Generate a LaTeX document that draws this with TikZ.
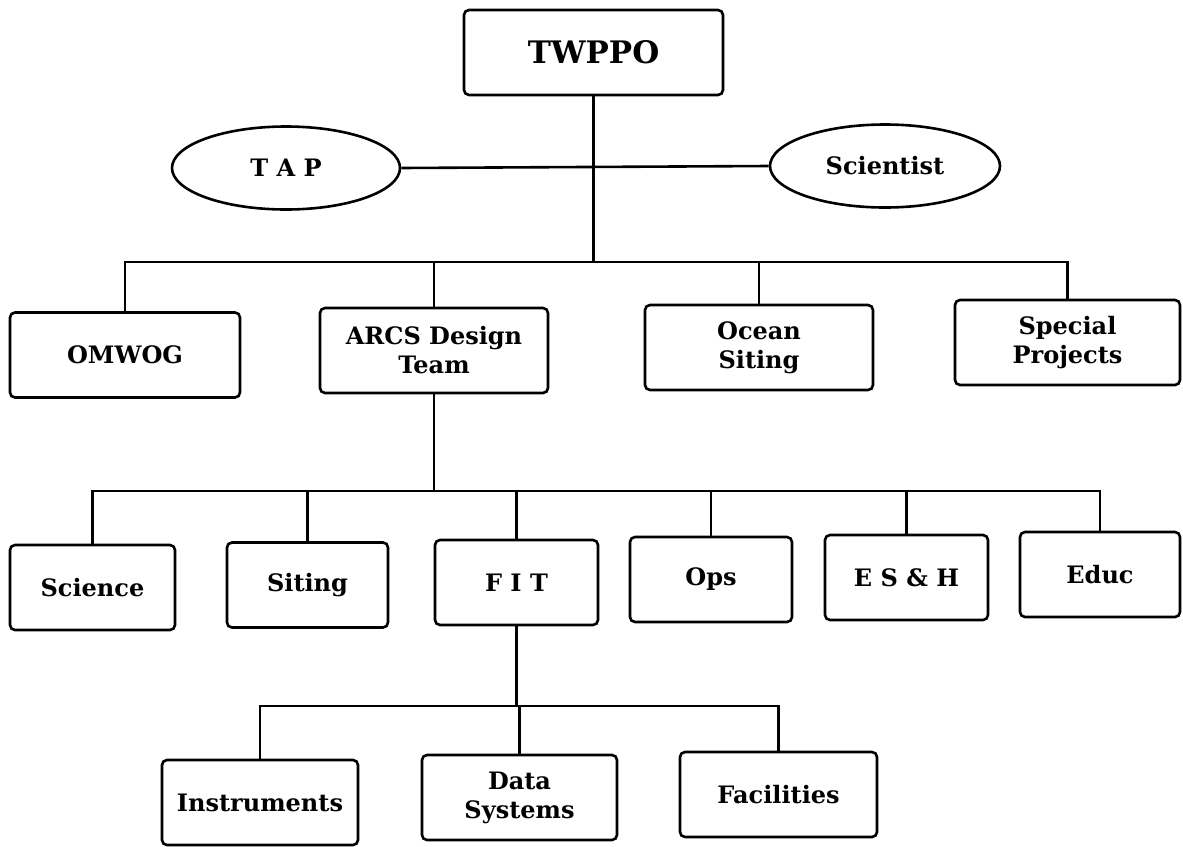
\documentclass[tikz,border=0pt]{standalone}
\usepackage{fontspec}
\setmainfont{DejaVu Serif}
\usetikzlibrary{shapes.geometric}
\tikzset{
  box/.style={draw, line width=2.6pt, rounded corners=5pt, minimum height=85pt, align=center, inner sep=2pt, font=\fontsize{24}{29}\selectfont\bfseries},
  oval/.style={draw, line width=2.6pt, ellipse, minimum height=83pt, inner sep=0pt, font=\fontsize{24}{27}\selectfont\bfseries},
  wire/.style={line width=2.6pt}
}
\begin{document}
\begin{tikzpicture}[x=1pt,y=-1pt]
\useasboundingbox (0,0) rectangle (1183,846);
\node[box, minimum width=259pt, font=\fontsize{31}{34}\selectfont\bfseries] (twppo) at (593.5,52.5) {TWPPO};
\node[oval, minimum width=228pt] (tap) at (286,168) {T A P};
\node[oval, minimum width=230pt] (sci) at (885,166) {Scientist};
\node[box, minimum width=230pt] (omwog) at (125,355) {OMWOG};
\node[box, minimum width=228pt] (arcs) at (434,350.5) {ARCS Design\\Team};
\node[box, minimum width=228pt] (ocean) at (759,347.5) {Ocean\\Siting};
\node[box, minimum width=225pt] (special) at (1067.5,342.5) {Special\\Projects};
\node[box, minimum width=165pt] (science) at (92.5,587.5) {Science};
\node[box, minimum width=161pt] (siting) at (307.5,585) {Siting};
\node[box, minimum width=163pt] (fit) at (516.5,582.5) {F I T};
\node[box, minimum width=162pt] (ops) at (711,579.5) {Ops};
\node[box, minimum width=163pt] (esh) at (906.5,577.5) {E S \& H};
\node[box, minimum width=160pt] (educ) at (1100,574.5) {Educ};
\node[box, minimum width=196pt] (instr) at (260,802.5) {Instruments};
\node[box, minimum width=195pt] (data) at (519.5,797.5) {Data\\Systems};
\node[box, minimum width=197pt] (fac) at (778.5,794.5) {Facilities};
\coordinate (b1) at (593.5,262);
\coordinate (b2) at (434,491);
\coordinate (b3) at (516.5,706);
\draw[wire] (tap.east) -- (sci.west);
\draw[wire] (twppo.south) -- (b1);
\draw[wire] (omwog.north) -- (omwog.north |- b1) -- (special.north |- b1) -- (special.north);
\draw[wire] (arcs.north) -- (arcs.north |- b1);
\draw[wire] (ocean.north) -- (ocean.north |- b1);
\draw[wire] (arcs.south) -- (b2);
\draw[wire] (science.north) -- (science.north |- b2) -- (educ.north |- b2) -- (educ.north);
\draw[wire] (siting.north) -- (siting.north |- b2);
\draw[wire] (fit.north) -- (fit.north |- b2);
\draw[wire] (ops.north) -- (ops.north |- b2);
\draw[wire] (esh.north) -- (esh.north |- b2);
\draw[wire] (fit.south) -- (b3);
\draw[wire] (instr.north) -- (instr.north |- b3) -- (fac.north |- b3) -- (fac.north);
\draw[wire] (data.north) -- (data.north |- b3);
\end{tikzpicture}
\end{document}
